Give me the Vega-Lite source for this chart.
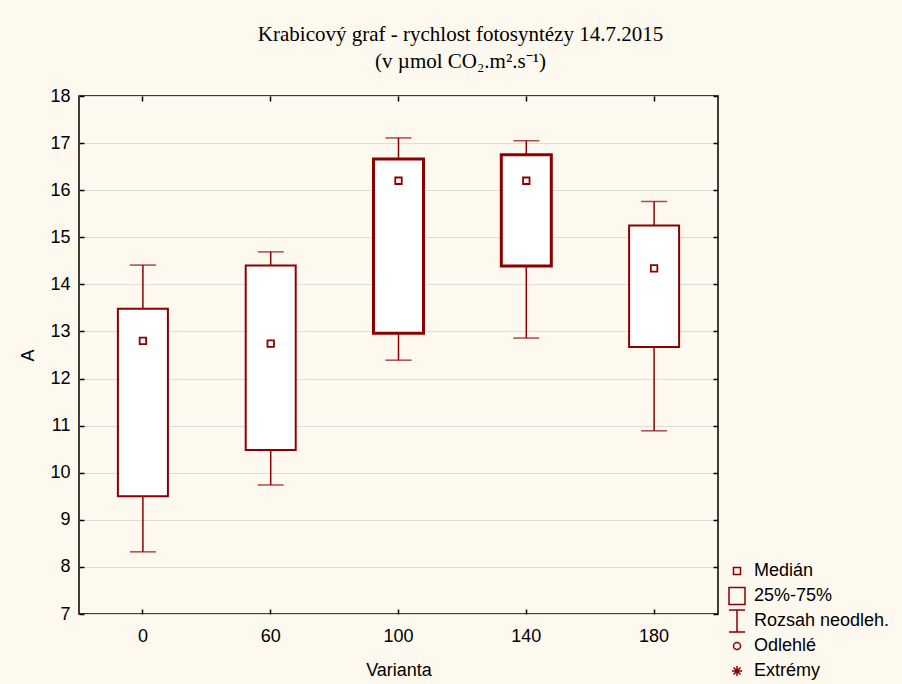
{
  "$schema": "https://vega.github.io/schema/vega-lite/v6.json",
  "autosize": {"type": "none"},
  "width": 639,
  "height": 518,
  "padding": {"left": 79, "top": 96, "right": 184, "bottom": 70},
  "background": "#fdf9ef",
  "title": {
    "text": ["Krabicový graf - rychlost fotosyntézy 14.7.2015", "(v µmol CO₂.m².s⁻¹)"],
    "font": "Liberation Serif",
    "fontSize": 21,
    "fontWeight": "normal",
    "color": "#000000",
    "anchor": "middle",
    "frame": "group",
    "dx": 62,
    "dy": 28,
    "baseline": "alphabetic",
    "lineHeight": 27,
    "offset": 26
  },
  "config": {
    "view": {"stroke": "#000000", "strokeWidth": 1.5, "fill": "#ffffff"},
    "axis": {
      "domain": false,
      "labelFont": "Liberation Sans",
      "labelFontSize": 18,
      "labelColor": "#000000",
      "titleFont": "Liberation Sans",
      "titleFontSize": 18,
      "titleFontWeight": "normal",
      "titleColor": "#000000",
      "tickColor": "#000000",
      "tickWidth": 1.5,
      "tickSize": -5
    },
    "legend": {
      "labelFont": "Liberation Sans",
      "labelFontSize": 18,
      "labelColor": "#000000"
    }
  },
  "data": {
    "values": [
      {"Varianta": "0", "min": 8.32, "q1": 9.5, "median": 12.8, "q3": 13.48, "max": 14.41},
      {"Varianta": "60", "min": 9.74, "q1": 10.48, "median": 12.74, "q3": 14.4, "max": 14.69},
      {"Varianta": "100", "min": 12.39, "q1": 12.96, "median": 16.2, "q3": 16.66, "max": 17.11},
      {"Varianta": "140", "min": 12.86, "q1": 14.39, "median": 16.2, "q3": 16.75, "max": 17.05},
      {"Varianta": "180", "min": 10.89, "q1": 12.67, "median": 14.34, "q3": 15.25, "max": 15.76}
    ]
  },
  "resolve": {"axis": {"x": "independent", "y": "independent"}},
  "layer": [
    {
      "mark": {"type": "rule", "color": "#8b0000", "strokeWidth": 1.5},
      "encoding": {
        "x": {
          "field": "Varianta", "type": "ordinal",
          "scale": {"domain": ["0", "60", "100", "140", "180"], "paddingInner": 0, "paddingOuter": 0},
          "axis": {"title": "Varianta", "labelAngle": 0, "labelPadding": 18, "titlePadding": 16, "grid": false}
        },
        "y": {
          "field": "min", "type": "quantitative",
          "scale": {"domain": [7, 18], "nice": false, "zero": false},
          "axis": {"title": "A", "values": [7, 8, 9, 10, 11, 12, 13, 14, 15, 16, 17, 18], "labelPadding": 14, "titlePadding": 12, "grid": true, "gridColor": "#dcdcdc", "gridWidth": 1}
        },
        "y2": {"field": "max"}
      }
    },
    {
      "mark": {"type": "tick", "color": "#8b0000", "thickness": 1.5, "size": 26},
      "encoding": {
        "x": {"field": "Varianta", "type": "ordinal", "axis": {"orient": "top", "labels": false, "title": null, "grid": false}},
        "y": {"field": "min", "type": "quantitative", "axis": {"orient": "right", "labels": false, "title": null, "grid": false, "values": [7, 8, 9, 10, 11, 12, 13, 14, 15, 16, 17, 18]}}
      }
    },
    {
      "mark": {"type": "tick", "color": "#8b0000", "thickness": 1.5, "size": 26},
      "encoding": {
        "x": {"field": "Varianta", "type": "ordinal", "axis": null},
        "y": {"field": "max", "type": "quantitative", "axis": null}
      }
    },
    {
      "mark": {"type": "bar", "fill": "#ffffff", "stroke": "#8b0000", "size": 50},
      "encoding": {
        "x": {"field": "Varianta", "type": "ordinal", "axis": null},
        "y": {"field": "q1", "type": "quantitative", "axis": null},
        "y2": {"field": "q3"},
        "strokeWidth": {"condition": {"test": "datum.Varianta == '100' || datum.Varianta == '140'", "value": 3}, "value": 2}
      }
    },
    {
      "mark": {"type": "point", "shape": "square", "filled": false, "color": "#8b0000", "size": 42, "strokeWidth": 1.8, "opacity": 1},
      "encoding": {
        "x": {"field": "Varianta", "type": "ordinal", "axis": null},
        "y": {"field": "median", "type": "quantitative", "axis": null}
      }
    },
    {
      "data": {
        "values": [
          {"item": "Medián"},
          {"item": "25%-75%"},
          {"item": "Rozsah neodleh."},
          {"item": "Odlehlé"},
          {"item": "Extrémy"}
        ]
      },
      "mark": {"type": "point", "filled": false, "color": "#8b0000", "opacity": 0},
      "encoding": {
        "shape": {
          "field": "item", "type": "nominal",
          "scale": {
            "domain": ["Medián", "25%-75%", "Rozsah neodleh.", "Odlehlé", "Extrémy"],
            "range": [
              "M-0.35,-0.35H0.35V0.35H-0.35Z",
              "M-0.8,-0.85H0.8V0.85H-0.8Z",
              "M-0.8,-1.1H0.8M0,-1.1V1.1M-0.8,1.1H0.8",
              "M0.35,0A0.35,0.35 0 1,1 -0.35,0A0.35,0.35 0 1,1 0.35,0Z",
              "M-0.5,0H0.5M0,-0.5V0.5M-0.35,-0.35L0.35,0.35M-0.35,0.35L0.35,-0.35"
            ]
          },
          "legend": {
            "title": null,
            "orient": "none",
            "legendX": 647,
            "legendY": 464,
            "padding": 0,
            "gridAlign": "all",
            "symbolSize": 400,
            "symbolStrokeWidth": 1.5,
            "symbolStrokeColor": "#8b0000",
            "symbolFillColor": "transparent",
            "symbolOpacity": 1,
            "labelOffset": 6,
            "rowPadding": -4
          }
        }
      }
    }
  ]
}
